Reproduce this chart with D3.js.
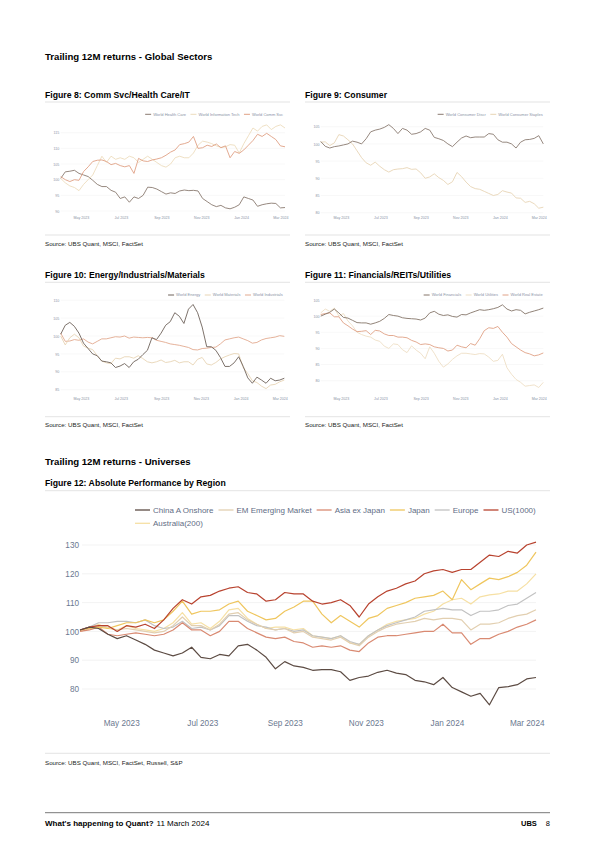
<!DOCTYPE html>
<html><head><meta charset="utf-8">
<script src="https://cdn.jsdelivr.net/npm/d3@7"></script>
<style>
html,body{margin:0;padding:0;background:#fff;}
svg{display:block;}
</style></head><body>
<svg id="page" width="595" height="842"></svg>
<script>
// ---------------- DATA ----------------
const startDate = new Date(2023, 2, 31);               // first weekly observation
const weekDates = d3.range(50).map(k => d3.timeDay.offset(startDate, 7 * k));

// Figure 8
const fig8Names = ["World Health Care", "World Information Tech", "World Comm Svc"];
const fig8HealthCare = [100.4,102.5,102.7,103,102,101.5,101,99.8,98.5,97.8, 97.8,96.6,96,94,94.5,92.8,94.5,94,95,97.6, 97.5,97,96.2,95.4,95.8,95.6,96.4,96.7,96.5,96.6, 96.4,94,93,92,91.4,91.8,91,90.7,91.2,92, 94.5,94,93.5,91.5,92,92.3,92.5,92.4,91,91.1];
const fig8InfoTech = [100.4,99,98,97.5,96.5,98.5,100,101.5,104.5,107.5, 105.5,107.5,106.5,107,106.5,107.5,107,105.5,106.5,107.5, 106.5,105.5,104.5,104,105,107,107.5,107,107,108.5, 111,112.3,112,111.5,110.8,110.3,110.5,111.2,111,108.5, 111.5,114,116.5,115.5,117,117.5,116,117,117.5,116.5];
const fig8CommSvc = [101,100,99.4,100,99.8,102.6,104.1,105.8,106.2,106.3, 105.8,104.8,105.2,104.5,104.1,104.5,102,106.8,106,105.8, 106.3,106.6,107,107.8,108.8,109.5,111.2,111.5,112,113.8, 110,110.2,111,110.6,111.4,110.2,110.8,107,109,108.4, 109.5,111,112.5,114.5,113.8,114.8,113.8,112.8,110.8,110.5];
const fig8Ticks = [90, 95, 100, 105, 110, 115];

// Figure 9
const fig9Names = ["World Consumer Discr", "World Consumer Staples"];
const fig9ConsDiscr = [100.7,99.3,98.8,99.2,99.4,99.7,100,100.8,100.5,100, 101.5,103.5,104,104.3,104.8,105.6,104.5,103,104.5,104, 102.8,103,103.5,104.5,104,101.9,101.5,101,100,99.2, 100.5,101.7,102.3,101.8,102,102,102,103,102.8,101.2, 100.5,100.5,100,98.8,100.5,101.2,101.3,101.6,102.4,100];
const fig9ConsStaples = [100.5,100.6,99.5,100.3,102.7,102.3,101.2,100,98,96, 94.5,93.8,94.7,93.5,92.5,91.8,92.5,92.7,92.8,93.1, 92.6,92.7,91.6,90,90.4,91.3,90.2,89.4,88.2,89, 91.7,90.5,88.9,87.6,87,86.8,86.2,85.6,85,85.3, 86.4,86,85.7,84.3,84.2,83,83.3,82.6,81.3,81.6];
const fig9Ticks = [80, 85, 90, 95, 100, 105];

// Figure 10
const fig10Names = ["World Energy", "World Materials", "World Industrials"];
const fig10Energy = [100.5,103,103.8,102.7,100.8,98,96.5,95,94.5,93, 92.8,92.5,91.2,91.6,92.3,91.2,92.8,93.5,94.8,96, 99.5,99,100.8,103,104,106.5,105.5,103.5,107.5,108.8, 106.5,102.5,97,97,96,94,91.5,91.5,92.5,94.2, 91.5,88.3,86.8,88.5,87.7,86.8,88.2,87.5,87.7,88.2];
const fig10Materials = [100,97.5,99.5,100.5,99.5,97.2,96.6,96.2,94.5,93, 92.5,92.3,93.8,93.6,94.2,94.2,93.8,94.5,93.7,92.8, 92.5,92.8,93.3,92.6,92.8,93.2,92.5,92.8,92.8,91.9, 93.5,94,92.2,91.9,92.6,93.6,94.2,94.7,95.1,95, 91.2,89.5,87.5,87,86,85.3,86.3,86.5,87.2,87.7];
const fig10Industrials = [100.8,98.5,98.6,99,98.8,99.2,98.3,97.8,98.5,99.2, 99.2,99.5,99.8,99.7,100,99.4,99.7,99.6,99.5,99.6, 99.5,98.8,98.5,98.2,97.8,97.6,97.4,97.1,96.8,96.2, 96.1,96.5,96.6,96.8,96.9,97.8,98.9,99.2,99.5,99.7, 99.2,98.7,98,98.2,98.9,99.3,99.5,99.7,100.1,99.9];
const fig10Ticks = [85, 90, 95, 100, 105, 110];

// Figure 11
const fig11Names = ["World Financials", "World Utilities", "World Real Estate"];
const fig11Financials = [100,100.6,101.2,102.2,101,99.6,99.4,98.7,98,97.9, 97.9,97.5,97.9,98.4,99.3,100.5,100.2,100,99.5,99.3, 99.2,99.1,98.8,99.4,101,101.5,100.6,100.2,100.4,99.9, 99.7,100.5,100.4,101,101.5,102,101.8,102,102.3,102.7, 103.5,102.2,101.6,102,101.8,100.7,101.2,101.6,102,102.5];
const fig11Utilities = [101,102.2,101.5,102.5,100,100.8,98.5,97,95,94.3, 93.8,93.5,92.6,92.2,90.7,90,91.4,91.2,89.6,88.7, 90.8,89.5,88.5,86.8,90.5,88.5,86,84.2,85.2,86.6, 87.7,88.5,88.5,88.3,88.1,88.4,88.3,87.3,86,86.3, 88.2,84,82,80.4,79.5,78.3,78.5,78.7,77.9,79.5];
const fig11RealEstate = [100.5,100.8,101,99.8,99.8,97.9,97,96,95.2,95.3, 95.5,94.3,95.6,95.4,94.5,94,94,93.5,93.5,93.3, 92.5,92,91.2,91.4,91.2,90.5,90.2,90,89.2,89.5, 91,90.5,90.2,91.5,91,93,95.5,96.4,96.2,96.8, 95,93.5,91.5,90.5,89.5,88.7,88.3,87.7,88,88.6];
const fig11Ticks = [80, 85, 90, 95, 100, 105];

// Figure 12
const fig12Names = ["China A Onshore", "EM Emerging Market", "Asia ex Japan", "Japan", "Europe", "US(1000)", "Australia(200)"];
const chinaA = [100.5,101.5,101,99,97.5,98.5,97,95.5,93.5,92.5, 91.5,92.5,94.5,91,90.5,92,91.5,95,95.5,93.5, 91,87,89.5,88,87.5,86.5,86.7,86.7,86,83, 84,84.5,85.8,86.5,85.5,85,83,82.5,81.5,84, 80.5,79,77.5,78.5,74.5,80.5,80.8,81.5,83.5,84];
const emMarket = [100,101,102,101.5,100.5,101,100.5,100,99.5,100, 102,105,102,102,100.5,102.5,106,106.5,104,102.5, 101,100.5,101,99.5,100,98,97.5,97,98,96, 95,98,100,101.5,102.5,103,103.5,104.5,104,104.5, 104.5,104,100.5,102.5,102.5,103,104.5,105.5,106,107.5];
const asiaExJapan = [100,100.5,101.5,99,98.5,99,99.5,99,98.5,99, 100.5,103,100.5,100.5,98.5,100,103.5,103.5,101,99.5, 98,97.5,98,96.5,96,94.5,95,94.5,95,93.5, 93,96,98,98.5,98.5,99,99.5,100,100,102.5, 99.5,99.5,95.5,97.5,97.5,99,100,101.5,102.5,104];
const japan = [100.5,101,101.5,101,102,103,103,104,103,104, 107,110.5,106,107,107,107.5,109.5,110.5,107,105.5, 104,104.5,107,108.5,110.5,110.5,106,103,105.5,103.5, 101.5,104.5,105.5,108,109,110,111.5,112,112.5,114, 111,118,114.5,116.5,118.5,118,119,120.5,123,127.5];
const europe = [100.5,101.5,103,103,103.5,103.5,103,104,102,101, 101.5,103.5,101,101.5,100.5,102,105.5,105.5,103.5,102, 101.5,100.5,101,100,100.5,98.5,98,97.5,98.5,96.5, 95.5,98.5,100.5,102,103,104,105,107,107.5,108, 107.5,107.5,105.5,107,107,107.5,109,109.5,111.5,113.5];
const us1000 = [100.5,101.5,102,102,100,102,101.5,102.5,101,104, 108,111,109.5,112,112.5,114,115,115.5,113.5,113, 110.5,111,113.5,113,113,110.5,109.5,110,111,109, 105,109.5,112,114,115,116.5,117.5,120,121,121.5, 120.5,121.5,121.5,124,126.5,126,127.8,127.2,130,131];
const australia200 = [100,101,102.5,101,100.5,102,101,100.5,100,101, 103,106.5,102.5,103,101,103.5,107.5,108,104.5,102.5, 101,101.5,101.5,100.5,101,98.5,98,97.5,98.5,96, 95.5,98.5,100.5,102.5,103.5,104,104.5,106,107,109.5, 111,111.5,109.5,112,112.7,113,114,114,116.5,120];
const fig12Ticks = [80, 90, 100, 110, 120, 130];

// ---------------- DRAWING ----------------
const FONT = '"Liberation Sans", Arial, sans-serif';
const svg = d3.select("#page");
svg.append("rect").attr("width", 595).attr("height", 842).attr("fill", "#fff");

function txt(x, y, s, size, weight, color, anchor) {
  return svg.append("text").attr("x", x).attr("y", y).text(s)
    .attr("font-family", FONT).attr("font-size", size)
    .attr("font-weight", weight || "normal").attr("fill", color || "#000")
    .attr("text-anchor", anchor || "start");
}
function rule(x1, x2, y, color, w) {
  svg.append("line").attr("x1", x1).attr("x2", x2).attr("y1", y).attr("y2", y)
    .attr("stroke", color).attr("stroke-width", w);
}
const toSeries = arr => arr.map((v, i) => ({ date: weekDates[i], value: v }));

function chart(cfg) {
  const g = svg.append("g");
  const x = d3.scaleTime().domain([weekDates[0], weekDates[weekDates.length - 1]]).range([cfg.x0, cfg.x1]);
  const y = d3.scaleLinear().domain([cfg.ticks[0], cfg.ticks[cfg.ticks.length - 1]]).range([cfg.yBottom, cfg.yTop]);
  g.selectAll("line.grid").data(cfg.ticks).enter().append("line")
    .attr("x1", cfg.gridX0).attr("x2", cfg.x1).attr("y1", d => y(d)).attr("y2", d => y(d))
    .attr("stroke", cfg.gridColor).attr("stroke-width", cfg.gridW);
  const ya = g.append("g").attr("transform", `translate(${cfg.labelRight},0)`)
    .call(d3.axisLeft(y).tickValues(cfg.ticks).tickSize(0).tickPadding(0));
  ya.select(".domain").remove();
  ya.attr("font-family", FONT).attr("font-size", cfg.tickFs);
  ya.selectAll("text").attr("fill", cfg.tickColor);
  const xa = g.append("g").attr("transform", `translate(0,${cfg.xLabelY})`)
    .call(d3.axisBottom(x).ticks(d3.timeMonth.every(2)).tickFormat(d3.timeFormat("%b %Y")).tickSize(0).tickPadding(0));
  xa.select(".domain").remove();
  xa.attr("font-family", FONT).attr("font-size", cfg.tickFs);
  xa.selectAll("text").attr("fill", cfg.tickColor).attr("dy", null).attr("y", 0);
  const line = d3.line().x(d => x(d.date)).y(d => y(d.value));
  cfg.series.forEach(s => {
    g.append("path").datum(toSeries(s.values)).attr("d", line)
      .attr("fill", "none").attr("stroke", s.color).attr("stroke-width", cfg.lineW)
      .attr("stroke-linejoin", "round");
  });
  return g;
}

function legendRight(names, colors, rightX, y, fs, lineLen) {
  let cur = rightX;
  for (let i = names.length - 1; i >= 0; i--) {
    const t = svg.append("text").attr("y", y + fs * 0.35).text(names[i])
      .attr("font-family", FONT).attr("font-size", fs).attr("fill", "#8a93a6");
    const w = t.node().getComputedTextLength();
    const tx = cur - w;
    t.attr("x", tx);
    svg.append("line").attr("x1", tx - 2 - lineLen).attr("x2", tx - 2).attr("y1", y).attr("y2", y)
      .attr("stroke", colors[i]).attr("stroke-width", 1);
    cur = tx - 2 - lineLen - 4.5;
  }
}

// ----- headings -----
txt(45, 59.5, "Trailing 12M returns - Global Sectors", 9.6, "bold");
txt(45, 98, "Figure 8: Comm Svc/Health Care/IT", 8.7, "bold");
txt(305, 98, "Figure 9: Consumer", 8.7, "bold");
rule(45, 290, 102, "#dcdcdc", 0.8);
rule(305, 550, 102, "#dcdcdc", 0.8);
rule(45, 290, 235, "#dcdcdc", 0.8);
rule(305, 550, 235, "#dcdcdc", 0.8);
txt(45, 245.5, "Source: UBS Quant, MSCI, FactSet", 6.2, "normal", "#222");
txt(305, 245.5, "Source: UBS Quant, MSCI, FactSet", 6.2, "normal", "#222");

txt(45, 278, "Figure 10: Energy/Industrials/Materials", 8.7, "bold");
txt(305, 278, "Figure 11: Financials/REITs/Utilities", 8.7, "bold");
rule(45, 290, 282.3, "#dcdcdc", 0.8);
rule(305, 550, 282.3, "#dcdcdc", 0.8);
rule(45, 290, 416.7, "#dcdcdc", 0.8);
rule(305, 550, 416.7, "#dcdcdc", 0.8);
txt(45, 426.5, "Source: UBS Quant, MSCI, FactSet", 6.2, "normal", "#222");
txt(305, 426.5, "Source: UBS Quant, MSCI, FactSet", 6.2, "normal", "#222");

txt(45, 464.5, "Trailing 12M returns - Universes", 9.6, "bold");
txt(45, 485.5, "Figure 12: Absolute Performance by Region", 8.7, "bold");
rule(45, 550, 490.7, "#dcdcdc", 0.8);
rule(45, 550, 753.3, "#dcdcdc", 0.8);
txt(45, 765, "Source: UBS Quant, MSCI, FactSet, Russell, S&P", 6.2, "normal", "#222");

// footer
rule(45, 550, 812.7, "#555", 0.8);
const f1 = txt(45, 825.5, "What's happening to Quant?", 8, "bold");
const fw = f1.node().getComputedTextLength();
txt(45 + fw + 3, 825.5, "11 March 2024", 8, "normal");
txt(521, 825.5, "UBS", 7.5, "bold");
txt(550, 825.5, "8", 7.5, "normal", "#000", "end");

// ----- small charts -----
const smallBase = { tickFs: 3.6, tickColor: "#8a93a6", gridColor: "#f1f1f1", gridW: 0.5, lineW: 0.9 };
const c8 = ["#8a7a70", "#eddcbd", "#e0a084"];
chart(Object.assign({}, smallBase, {
  x0: 60.7, x1: 285, gridX0: 60.7, labelRight: 59.3, yTop: 132.7, yBottom: 211, xLabelY: 218.5,
  ticks: fig8Ticks,
  series: [{ values: fig8HealthCare, color: c8[0] }, { values: fig8InfoTech, color: c8[1] }, { values: fig8CommSvc, color: c8[2] }]
}));
legendRight(fig8Names, c8, 283, 114.3, 4, 6);

const c9 = ["#8a7a70", "#e8d5b5"];
chart(Object.assign({}, smallBase, {
  x0: 320.7, x1: 543.3, gridX0: 320.7, labelRight: 319.5, yTop: 126.7, yBottom: 212.7, xLabelY: 218.5,
  ticks: fig9Ticks,
  series: [{ values: fig9ConsStaples, color: c9[1] }, { values: fig9ConsDiscr, color: c9[0] }]
}));
legendRight(fig9Names, c9, 542.7, 114.3, 4, 6);

const c10 = ["#6e625a", "#e8d5b5", "#e2a98f"];
chart(Object.assign({}, smallBase, {
  x0: 60.7, x1: 284.3, gridX0: 60.7, labelRight: 59.3, yTop: 300.2, yBottom: 389.7, xLabelY: 399.5,
  ticks: fig10Ticks,
  series: [{ values: fig10Industrials, color: c10[2] }, { values: fig10Materials, color: c10[1] }, { values: fig10Energy, color: c10[0] }]
}));
legendRight(fig10Names, c10, 282.7, 295, 4, 6);

const c11 = ["#857569", "#eedfc5", "#e0a186"];
chart(Object.assign({}, smallBase, {
  x0: 320.7, x1: 543.3, gridX0: 320.7, labelRight: 319.5, yTop: 300, yBottom: 380.7, xLabelY: 399.5,
  ticks: fig11Ticks,
  series: [{ values: fig11Utilities, color: c11[1] }, { values: fig11RealEstate, color: c11[2] }, { values: fig11Financials, color: c11[0] }]
}));
legendRight(fig11Names, c11, 542.7, 295, 4, 6);

// ----- big chart -----
const c12 = ["#5c4b43", "#e2cfb0", "#d98a72", "#efc65e", "#c2c2c2", "#b8432f", "#f6e0a4"];
const fig12Values = [chinaA, emMarket, asiaExJapan, japan, europe, us1000, australia200];
const drawOrder = [6, 4, 1, 2, 3, 5, 0];
chart({
  tickFs: 8.2, tickColor: "#6b7890", gridColor: "#eeeeee", gridW: 0.7, lineW: 1.2,
  x0: 80, x1: 536, gridX0: 82, labelRight: 79, yTop: 545, yBottom: 689, xLabelY: 726,
  ticks: fig12Ticks,
  series: drawOrder.map(i => ({ values: fig12Values[i], color: c12[i] }))
});
(function () {
  let cx = 135, cy = 510;
  const fs = 8, lineLen = 15, maxX = 546;
  fig12Names.forEach((n, i) => {
    const t = svg.append("text").text(n).attr("font-family", FONT).attr("font-size", fs).attr("fill", "#5f6d85");
    const w = t.node().getComputedTextLength();
    if (cx + lineLen + 3 + w > maxX) { cx = 135; cy += 13.3; }
    svg.append("line").attr("x1", cx).attr("x2", cx + lineLen).attr("y1", cy).attr("y2", cy)
      .attr("stroke", c12[i]).attr("stroke-width", 1.3);
    t.attr("x", cx + lineLen + 3).attr("y", cy + fs * 0.35);
    cx += lineLen + 3 + w + 5;
  });
})();
</script>
</body></html>
